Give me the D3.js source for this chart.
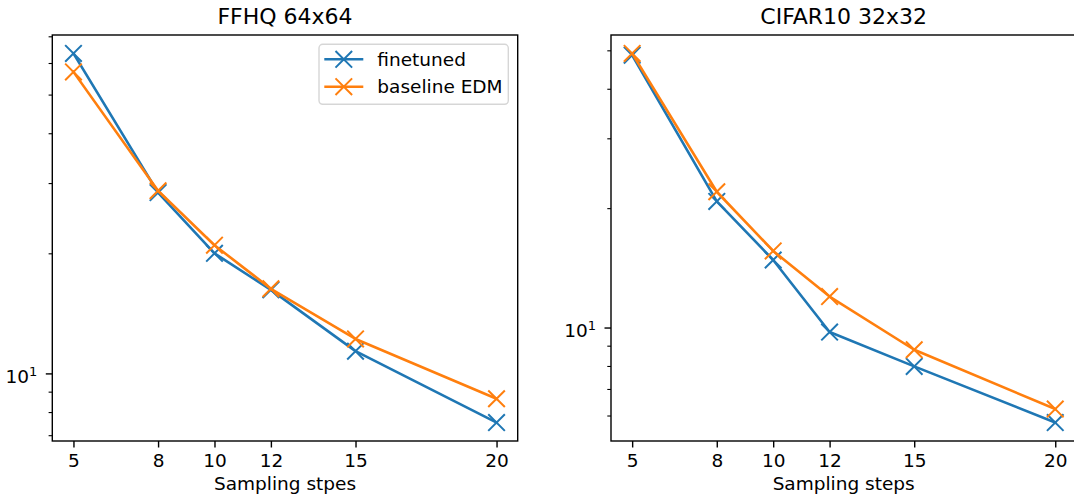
<!DOCTYPE html>
<html>
<head>
<meta charset="utf-8">
<script src="https://cdn.jsdelivr.net/npm/d3@7"></script>
<style>
  body { margin: 0; background: #fff; }
  text { font-family: "DejaVu Sans", sans-serif; fill: #000; }
</style>
</head>
<body>
<svg id="chart" width="1074" height="500"></svg>
<script>
var steps = [5, 8, 10, 12, 15, 20];
var seriesNames = ["finetuned", "baseline EDM"];
var seriesColors = ["#1f77b4", "#ff7f0e"];

// FID-like values
var ffhqFinetuned = [63.4, 28.4, 20.0, 16.2, 11.37, 7.53];
var ffhqBaseline = [57.0, 28.7, 20.96, 16.3, 12.2, 8.64];
var cifarFinetuned = [48.6, 20.8, 14.8, 9.74, 7.98, 5.76];
var cifarBaseline = [49.1, 22.0, 15.6, 11.97, 8.79, 6.23];

var panelTitles = ["FFHQ 64x64", "CIFAR10 32x32"];
var xLabels = ["Sampling stpes", "Sampling steps"];
var yMajorTicks = [10];

var panels = [
  {title: panelTitles[0], xLabel: xLabels[0], series: [ffhqFinetuned, ffhqBaseline], left: 52.3, legend: true},
  {title: panelTitles[1], xLabel: xLabels[1], series: [cifarFinetuned, cifarBaseline], left: 611, legend: false}
];

var svg = d3.select("#chart");
// note: "top" is taken by window.top, so plotTop
var plotTop = 35, plotBottom = 441, plotW = 465.4;
var fontSize = 18.5;
var crossPath = "M-8.3,-8.3L8.3,8.3M-8.3,8.3L8.3,-8.3";

panels.forEach(function(p) {
  var g = svg.append("g").attr("transform", "translate(" + p.left + "," + plotTop + ")");
  var h = plotBottom - plotTop;

  // matplotlib style 5% margins (log space for y)
  var x = d3.scaleLinear().domain([4.25, 20.75]).range([0, plotW]);
  var all = p.series[0].concat(p.series[1]);
  var lo = Math.log10(d3.min(all)), hi = Math.log10(d3.max(all));
  var pad = (hi - lo) * 0.05;
  var y = d3.scaleLog().domain([Math.pow(10, lo - pad), Math.pow(10, hi + pad)]).range([h, 0]);

  var minor = [];
  [1, 10].forEach(function(dec) {
    for (var m = 2; m <= 9; m++) {
      var v = m * dec;
      if (v >= y.domain()[0] && v <= y.domain()[1]) minor.push(v);
    }
  });

  var xAxis = g.append("g")
      .attr("transform", "translate(0," + h + ")")
      .call(d3.axisBottom(x).tickValues(steps).tickSize(6.5).tickPadding(6.5).tickFormat(d3.format("d")));
  xAxis.select(".domain").remove();
  xAxis.selectAll("line").attr("stroke", "#000").attr("stroke-width", 1.4);
  xAxis.selectAll("text").style("font-size", fontSize + "px").attr("fill", "#000");

  var yMinor = g.append("g")
      .call(d3.axisLeft(y).tickValues(minor).tickSize(3.7).tickFormat(""));
  yMinor.select(".domain").remove();
  yMinor.selectAll("line").attr("stroke", "#000").attr("stroke-width", 1.1);

  var yAxis = g.append("g")
      .call(d3.axisLeft(y).tickValues(yMajorTicks).tickSize(6.5).tickFormat(""));
  yAxis.select(".domain").remove();
  yAxis.selectAll("line").attr("stroke", "#000").attr("stroke-width", 1.4);
  yAxis.selectAll(".tick").append("text")
      .attr("x", -15)
      .attr("y", 9.3)
      .attr("text-anchor", "end")
      .style("font-size", fontSize + "px")
      .each(function(d) {
        var t = d3.select(this);
        t.append("tspan").text("10");
        t.append("tspan").attr("dy", -7).style("font-size", "13px").text(Math.round(Math.log10(d)));
      });

  // plot lines
  var line = d3.line()
      .x(function(d, i) { return x(steps[i]); })
      .y(function(d) { return y(d); });

  p.series.forEach(function(s, k) {
    g.append("path")
        .datum(s)
        .attr("fill", "none")
        .attr("stroke", seriesColors[k])
        .attr("stroke-width", 2.6)
        .attr("stroke-linejoin", "round")
        .attr("stroke-linecap", "square")
        .attr("d", line);
    g.selectAll(".m" + k)
        .data(s)
        .enter().append("path")
        .attr("class", "m" + k)
        .attr("transform", function(d, i) { return "translate(" + x(steps[i]) + "," + y(d) + ")"; })
        .attr("d", crossPath)
        .attr("stroke", seriesColors[k])
        .attr("stroke-width", 2)
        .attr("fill", "none");
  });

  // frame
  g.append("rect")
      .attr("width", plotW)
      .attr("height", h)
      .attr("fill", "none")
      .attr("stroke", "#000")
      .attr("stroke-width", 1.4);

  g.append("text")
      .attr("x", plotW / 2)
      .attr("y", -11)
      .attr("text-anchor", "middle")
      .style("font-size", "22px")
      .text(p.title);

  g.append("text")
      .attr("x", plotW / 2)
      .attr("y", 490 - plotTop)
      .attr("text-anchor", "middle")
      .style("font-size", fontSize + "px")
      .text(p.xLabel);

  if (p.legend) {
    var lg = g.append("g").attr("transform", "translate(" + (plotW - 198.7) + ",9.3)");
    lg.append("rect")
        .attr("width", 189.3)
        .attr("height", 60)
        .attr("rx", 3.7)
        .attr("fill", "#fff")
        .attr("fill-opacity", 0.8)
        .attr("stroke", "#ccc")
        .attr("stroke-opacity", 0.8)
        .attr("stroke-width", 1.4);
    seriesNames.forEach(function(name, k) {
      var cy = 15 + k * 27.4;
      lg.append("line")
          .attr("x1", 5.3).attr("x2", 44.3)
          .attr("y1", cy).attr("y2", cy)
          .attr("stroke", seriesColors[k])
          .attr("stroke-width", 2.6);
      lg.append("path")
          .attr("transform", "translate(24.8," + cy + ")")
          .attr("d", crossPath)
          .attr("stroke", seriesColors[k])
          .attr("stroke-width", 2)
          .attr("fill", "none");
      lg.append("text")
          .attr("x", 58.3)
          .attr("y", cy + 6.4)
          .style("font-size", fontSize + "px")
          .text(name);
    });
  }
});
</script>
</body>
</html>
